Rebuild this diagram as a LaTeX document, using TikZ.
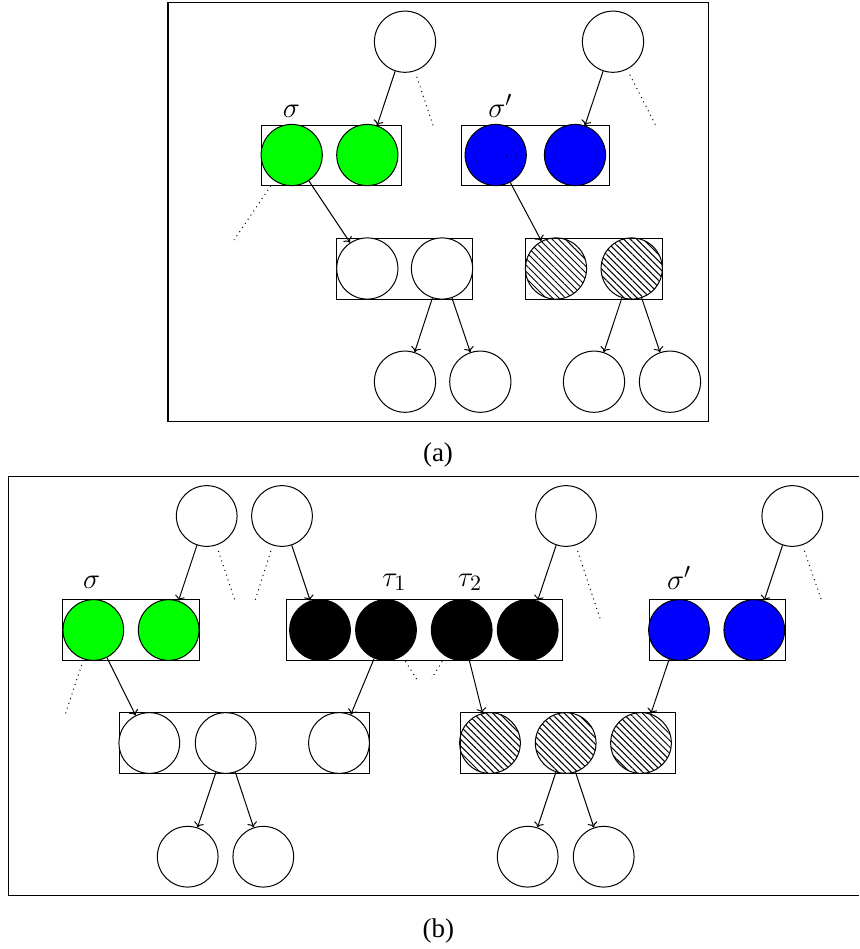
\documentclass[tikz,border=0pt]{standalone}
\usepackage{fontspec}
\setmainfont{Liberation Serif}
\usetikzlibrary{patterns,patterns.meta,arrows.meta,fit}
\tikzset{
 circA/.style={circle,draw,line width=0.5pt,minimum size=30.6pt,inner sep=0,fill=white},
 circB/.style={circA,minimum size=30.35pt},
 grn/.style={fill=green},
 blu/.style={fill=blue},
 blk/.style={fill=black},
 hat/.style={pattern={Lines[angle=-45,distance=2.3pt,line width=0.5pt]}},
 boxst/.style={draw,line width=0.5pt,inner sep=0},
 arr/.style={-{To[length=2.5pt,width=5pt]},line width=0.5pt},
 dots/.style={dotted,line width=0.5pt,shorten <=3pt},
 lbl/.style={anchor=base,inner sep=0,font=\fontsize{15}{18}\selectfont},
 captxt/.style={inner sep=0,font=\fontsize{13.5}{16}\selectfont},
 frm/.style={line width=0.6pt},
}
\begin{document}
\begin{tikzpicture}[x=0.5pt,y=-0.5pt]
\useasboundingbox (0,0) rectangle (859,949);
% ---------------- panel (a) ----------------
\node[frm,draw,inner sep=0,fit={(168,2.7) (708.3,421.7)}] (frameA) {};
\node[boxst,fit={(261.3,125) (401.3,185)}] (bxGA) {};
\node[boxst,fit={(461.7,125) (609.3,185)}] (bxBA) {};
\node[boxst,fit={(336.7,238.3) (472.7,299)}] (bxMA) {};
\node[boxst,fit={(525.7,238.3) (662.3,299)}] (bxHA) {};

\node[circA] (tA1) at (405,41.7) {};
\node[circA] (tA2) at (613,41.7) {};
\node[circA,grn] (gA1) at (291.7,155) {};
\node[circA,grn] (gA2) at (367.3,155) {};
\node[circA,blu] (bA1) at (495.7,155) {};
\node[circA,blu] (bA2) at (575,155) {};
\node[circA] (mA1) at (367.3,268.5) {};
\node[circA] (mA2) at (442,268.5) {};
\node[circA,hat] (hA1) at (556,268.5) {};
\node[circA,hat] (hA2) at (631.7,268.5) {};
\node[circA] (lA1) at (405,381.7) {};
\node[circA] (lA2) at (480.3,381.7) {};
\node[circA] (lA3) at (594,381.7) {};
\node[circA] (lA4) at (670,381.7) {};

\node[lbl] (sA) at (291.3,117.3) {$\sigma$};
\node[lbl] (spA) at (500.3,117.3) {$\sigma'$};
\node[captxt] (capA) at (438,455) {(a)};

\coordinate (dA1) at (433.3,126);
\coordinate (dA2) at (656.7,127.3);
\coordinate (dA3) at (234,240);
\coordinate (dA4s) at (506,155);
\coordinate (dA4e) at (525,155);

\draw[arr] (tA1) -- (gA2);
\draw[arr] (tA2) -- (bA2);
\draw[arr] (gA1) -- (mA1);
\draw[arr] (bA1) -- (hA1);
\draw[arr] (mA2) -- (lA1);
\draw[arr] (mA2) -- (lA2);
\draw[arr] (hA2) -- (lA3);
\draw[arr] (hA2) -- (lA4);
\draw[dots] (tA1) -- (dA1);
\draw[dots] (tA2) -- (dA2);
\draw[dots] (gA1) -- (dA3);
\draw[dotted,line width=0.5pt] (dA4s) -- (dA4e);

% ---------------- panel (b) ----------------
\coordinate (fB1) at (859,476.7);
\coordinate (fB2) at (8.3,476.7);
\coordinate (fB3) at (8.3,895.7);
\coordinate (fB4) at (859,895.7);
\draw[frm] (fB1) -- (fB2) -- (fB3) -- (fB4);

\node[boxst,fit={(62.7,599.3) (199.3,660)}] (bxGB) {};
\node[boxst,fit={(286,599.3) (562.3,660)}] (bxKB) {};
\node[boxst,fit={(649,599.3) (785,660)}] (bxBB) {};
\node[boxst,fit={(119.3,712.7) (369.3,773.3)}] (bxMB) {};
\node[boxst,fit={(460,712.7) (675.7,773.3)}] (bxHB) {};

\node[circB] (tB1) at (206.7,516) {};
\node[circB] (tB2) at (282,516) {};
\node[circB] (tB3) at (566,516) {};
\node[circB] (tB4) at (792.3,516) {};
\node[circB,grn] (gB1) at (93.3,630) {};
\node[circB,grn] (gB2) at (168.7,630) {};
\node[circB,blk] (kB1) at (320,630) {};
\node[circB,blk] (kB2) at (386,630) {};
\node[circB,blk] (kB3) at (461.7,630) {};
\node[circB,blk] (kB4) at (527.7,630) {};
\node[circB,blu] (bB1) at (679,630) {};
\node[circB,blu] (bB2) at (754.3,630) {};
\node[circB] (mB1) at (149.3,743) {};
\node[circB] (mB2) at (225.7,743) {};
\node[circB] (mB3) at (339,743) {};
\node[circB,hat] (hB1) at (490,743) {};
\node[circB,hat] (hB2) at (565.7,743) {};
\node[circB,hat] (hB3) at (641,743) {};
\node[circB] (lB1) at (187.7,856.7) {};
\node[circB] (lB2) at (263.3,856.7) {};
\node[circB] (lB3) at (527.7,856.7) {};
\node[circB] (lB4) at (603.7,856.7) {};

\node[lbl] (sB) at (91.7,588.3) {$\sigma$};
\node[lbl] (t1B) at (394.2,586) {$\tau_1$};
\node[lbl] (t2B) at (470,586) {$\tau_2$};
\node[lbl] (spB) at (679.2,589) {$\sigma'$};
\node[captxt] (capB) at (438.3,931) {(b)};

\coordinate (dB1) at (235,600.7);
\coordinate (dB2) at (255,600.7);
\coordinate (dB3) at (65,715);
\coordinate (dB4) at (416.7,679.3);
\coordinate (dB5) at (431.7,678.3);
\coordinate (dB6) at (600,618.3);
\coordinate (dB7) at (821.7,600.7);

\draw[arr] (tB1) -- (gB2);
\draw[arr] (tB2) -- (kB1);
\draw[arr] (tB3) -- (kB4);
\draw[arr] (tB4) -- (bB2);
\draw[arr] (gB1) -- (mB1);
\draw[arr] (kB2) -- (mB3);
\draw[arr] (kB3) -- (hB1);
\draw[arr] (bB1) -- (hB3);
\draw[arr] (mB2) -- (lB1);
\draw[arr] (mB2) -- (lB2);
\draw[arr] (hB2) -- (lB3);
\draw[arr] (hB2) -- (lB4);
\draw[dots] (tB1) -- (dB1);
\draw[dots] (tB2) -- (dB2);
\draw[dots] (gB1) -- (dB3);
\draw[dots] (kB2) -- (dB4);
\draw[dots] (kB3) -- (dB5);
\draw[dots] (tB3) -- (dB6);
\draw[dots] (tB4) -- (dB7);
\end{tikzpicture}
\end{document}
